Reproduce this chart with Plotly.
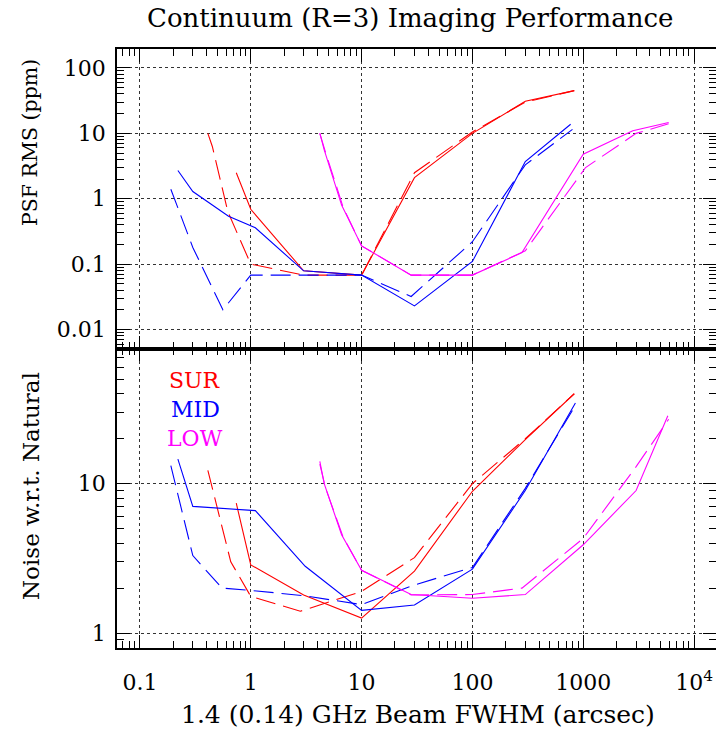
import plotly.graph_objects as go
from plotly.subplots import make_subplots

# ---------------- data ----------------
# Top panel: PSF RMS (ppm)
sur_psf_solid_x = [0.74, 1.0, 3.0, 10, 30, 100, 300, 830]
sur_psf_solid_y = [2.5, 0.69, 0.079, 0.068, 2.1, 10, 31, 45]
sur_psf_dash_x = [0.41, 0.45, 0.62, 1.0, 3.0, 10, 30, 100, 300, 830]
sur_psf_dash_y = [10, 6.3, 0.64, 0.1, 0.068, 0.068, 2.5, 10.5, 30, 45]

mid_psf_solid_x = [0.22, 0.30, 0.63, 1.1, 3.0, 10, 30, 100, 300, 770]
mid_psf_solid_y = [2.7, 1.29, 0.54, 0.36, 0.079, 0.068, 0.023, 0.11, 3.7, 13.8]
mid_psf_dash_x = [0.19, 0.30, 0.56, 1.0, 3.0, 10, 28, 100, 300, 800]
mid_psf_dash_y = [1.4, 0.18, 0.020, 0.068, 0.068, 0.068, 0.032, 0.22, 3.3, 11.5]

low_psf_solid_x = [4.2, 4.6, 6.6, 10, 28, 100, 280, 1000, 2800, 5900]
low_psf_solid_y = [10, 5.6, 0.8, 0.19, 0.068, 0.068, 0.15, 4.8, 11, 14.7]
low_psf_dash_x = [4.2, 4.7, 6.8, 10, 28, 100, 300, 1050, 3000, 5900]
low_psf_dash_y = [10, 5.3, 0.75, 0.19, 0.068, 0.068, 0.16, 3.0, 10, 14]

# Bottom panel: Noise w.r.t. Natural
sur_noise_solid_x = [0.74, 1.0, 3.0, 10, 30, 100, 300, 830]
sur_noise_solid_y = [7.4, 2.86, 1.8, 1.26, 2.6, 8.9, 19.7, 40]
sur_noise_dash_x = [0.41, 0.66, 1.0, 2.8, 10, 30, 100, 300, 830]
sur_noise_dash_y = [12.3, 3.0, 1.76, 1.4, 1.9, 3.2, 10, 20, 40]

mid_noise_solid_x = [0.22, 0.30, 1.1, 3.1, 10, 30, 100, 300, 850]
mid_noise_solid_y = [14.6, 7.05, 6.6, 2.8, 1.42, 1.54, 2.68, 9.0, 34.7]
mid_noise_dash_x = [0.19, 0.30, 0.55, 1.0, 3.0, 10, 30, 100, 300, 800]
mid_noise_dash_y = [13.2, 3.3, 2.0, 1.93, 1.78, 1.55, 2.1, 2.75, 9.3, 31]

low_noise_solid_x = [4.2, 4.6, 6.6, 10, 28, 100, 300, 1000, 3000, 5800]
low_noise_solid_y = [14.1, 10, 4.55, 2.63, 1.81, 1.71, 1.81, 3.9, 9.0, 28.5]
low_noise_dash_x = [4.2, 4.7, 6.8, 10, 28, 100, 280, 1000, 3000, 5900]
low_noise_dash_y = [13.5, 9.5, 4.4, 2.63, 1.8, 1.81, 2.0, 4.3, 13, 27]

x_tickvals = [0.1, 1, 10, 100, 1000, 10000]
x_ticktext = ["0.1", "1", "10", "100", "1000", "10<sup>4</sup>"]
top_tickvals = [0.01, 0.1, 1, 10, 100]
top_ticktext = ["0.01", "0.1", "1", "10", "100"]
bot_tickvals = [1, 10]
bot_ticktext = ["1", "10"]

series_names = ["SUR", "MID", "LOW"]
series_colors = ["#ff0000", "#0000ff", "#ff00ff"]

# ---------------- figure ----------------
FONT = "DejaVu Serif"
DASH = "20px,8px"

fig = make_subplots(rows=2, cols=1, shared_xaxes=True, vertical_spacing=0)

top_sets = [
    (sur_psf_solid_x, sur_psf_solid_y, sur_psf_dash_x, sur_psf_dash_y),
    (mid_psf_solid_x, mid_psf_solid_y, mid_psf_dash_x, mid_psf_dash_y),
    (low_psf_solid_x, low_psf_solid_y, low_psf_dash_x, low_psf_dash_y),
]
bot_sets = [
    (sur_noise_solid_x, sur_noise_solid_y, sur_noise_dash_x, sur_noise_dash_y),
    (mid_noise_solid_x, mid_noise_solid_y, mid_noise_dash_x, mid_noise_dash_y),
    (low_noise_solid_x, low_noise_solid_y, low_noise_dash_x, low_noise_dash_y),
]

for row, sets in ((1, top_sets), (2, bot_sets)):
    for name, col, (sx, sy, dx, dy) in zip(series_names, series_colors, sets):
        fig.add_trace(go.Scatter(x=sx, y=sy, mode="lines", name=name,
                                 line=dict(color=col, width=1.1),
                                 showlegend=False, hoverinfo="skip"),
                      row=row, col=1)
        fig.add_trace(go.Scatter(x=dx, y=dy, mode="lines", name=name,
                                 line=dict(color=col, width=1.1, dash=DASH),
                                 showlegend=False, hoverinfo="skip"),
                      row=row, col=1)


def minor_vals(lo_exp, hi_exp):
    vals = []
    for e in range(lo_exp, hi_exp + 1):
        for m in range(2, 10):
            vals.append(m * 10.0 ** e)
    return vals


tickfont = dict(family=FONT, size=22, color="black")
common = dict(
    type="log", showline=True, linecolor="black", linewidth=1.6,
    mirror="allticks", ticks="inside", ticklen=13, tickwidth=1,
    tickcolor="black", showgrid=True, gridcolor="#333333", gridwidth=1.3,
    griddash="dot", zeroline=False, tickfont=tickfont, automargin=False,
)

xminor = dict(tickmode="array", tickvals=minor_vals(-2, 4), ticks="inside",
              ticklen=7, tickwidth=1, tickcolor="black", showgrid=False)

fig.update_xaxes(range=[-1.207, 4.198], tickmode="array", tickvals=x_tickvals,
                 ticktext=x_ticktext, minor=xminor, **common)
fig.update_xaxes(showticklabels=False, row=1, col=1)
fig.update_xaxes(showticklabels=True, ticklabelstandoff=14, row=2, col=1)

fig.update_yaxes(range=[-2.29, 2.29], tickmode="array", tickvals=top_tickvals,
                 ticktext=top_ticktext,
                 minor=dict(tickmode="array", tickvals=minor_vals(-3, 2),
                            ticks="inside", ticklen=7, tickwidth=1,
                            tickcolor="black", showgrid=False),
                 ticklabelstandoff=5, row=1, col=1, **common)
fig.update_yaxes(range=[-0.1, 1.905], tickmode="array", tickvals=bot_tickvals,
                 ticktext=bot_ticktext,
                 minor=dict(tickmode="array", tickvals=minor_vals(-1, 1),
                            ticks="inside", ticklen=7, tickwidth=1,
                            tickcolor="black", showgrid=False),
                 ticklabelstandoff=5, row=2, col=1, **common)

annotations = [
    dict(text="Continuum (R=3) Imaging Performance", x=410, y=18,
         font=dict(family=FONT, size=26, color="black")),
    dict(text="1.4 (0.14) GHz Beam FWHM (arcsec)", x=418, y=714,
         font=dict(family=FONT, size=25, color="black")),
    dict(text="PSF RMS (ppm)", x=30, y=143, textangle=-90,
         font=dict(family=FONT, size=20.5, color="black")),
    dict(text="Noise w.r.t. Natural", x=31, y=486, textangle=-90,
         font=dict(family=FONT, size=23, color="black")),
]
for i, (name, col) in enumerate(zip(series_names, series_colors)):
    annotations.append(dict(text=name, x=195, y=380 + 29.5 * i,
                            font=dict(family=FONT, size=22, color=col)))

W, H = 716, 729
ML, MR, MT, MB = 117, 0, 49, 81
ann_objs = []
for a in annotations:
    d = dict(a)
    d.update(xref="paper", yref="paper", showarrow=False,
             xanchor="center", yanchor="middle")
    d["x"] = (a["x"] - ML) / (W - ML - MR)
    d["y"] = 1 - (a["y"] - MT) / (H - MT - MB)
    ann_objs.append(d)

fig.update_layout(
    width=W, height=H,
    margin=dict(l=ML, r=MR, t=MT, b=MB, autoexpand=False),
    paper_bgcolor="white", plot_bgcolor="white",
    showlegend=False,
    annotations=ann_objs,
    font=dict(family=FONT, color="black"),
)

fig.write_html("out.html",
               config={"displayModeBar": False},
               post_script="document.body.style.margin='0px';"
                           "document.body.style.padding='0px';"
                           "document.body.style.overflow='hidden';")
